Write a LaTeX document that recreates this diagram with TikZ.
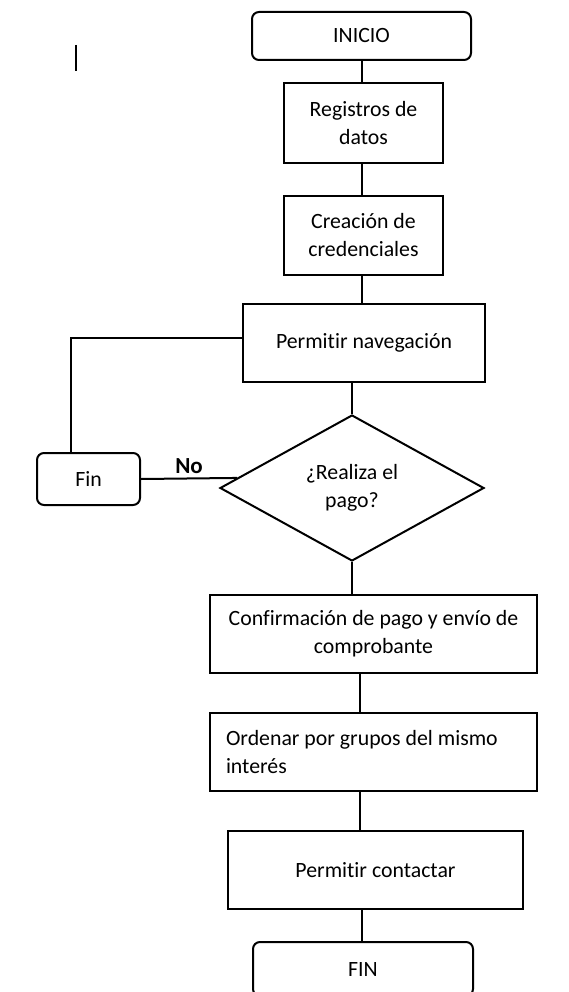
\documentclass[tikz,border=0pt]{standalone}
\usepackage{fontspec}
\setmainfont{Carlito}[Ligatures=NoCommon]
\usetikzlibrary{shapes.geometric}

\begin{document}
\begin{tikzpicture}[x=1pt,y=-1pt,line width=2pt,
  every node/.style={font=\fontsize{21.8}{28}\selectfont},
  terminal/.style={draw,rounded corners=7pt,inner sep=0pt},
  process/.style={draw,align=center,inner sep=0pt,minimum height=78pt},
  decision/.style={draw,shape=diamond,align=center,inner sep=0pt,minimum width=264pt,minimum height=146pt}]

\useasboundingbox (0,0) rectangle (568,992);

\draw[line width=1.5pt] (76,45) -- (76,71);

\node[terminal,minimum width=219pt,minimum height=48pt] (inicio) at (361.5,36) {INICIO};
\node[process,minimum width=159pt,minimum height=80pt] (registro) at (363.5,123) {Registros de\\datos};
\node[process,minimum width=159pt,minimum height=79pt] (credencial) at (363.5,235.5) {Creación de\\credenciales};
\node[process,minimum width=242pt] (navegar) at (364,343) {Permitir navegación};
\node[decision] (pago) at (352,488) {¿Realiza el\\pago?};
\node[terminal,minimum width=103pt,minimum height=52pt] (fin) at (88.5,479) {Fin};
\node[process,minimum width=327pt] (confirmar) at (373.5,634) {Confirmación de pago y envío de\\comprobante};
\node[process,minimum width=327pt,text width=295pt,align=flush left] (ordenar) at (373.5,752) {Ordenar por grupos del mismo\\interés};
\node[process,minimum width=295pt] (contactar) at (375.5,870) {Permitir contactar};
\node[terminal,minimum width=220pt,minimum height=54pt] (finfinal) at (363,969) {FIN};

\draw (inicio.south) -- (inicio.south |- registro.north);
\draw (inicio.south |- registro.south) -- (inicio.south |- credencial.north);
\draw (inicio.south |- credencial.south) -- (inicio.south |- navegar.north);
\draw (navegar.south -| pago.north) -- (pago.north);
\draw ([yshift=5pt]navegar.west) -| ([xshift=-18pt]fin.north);
\draw (fin.east) -- node[above,font=\fontsize{23}{28}\selectfont\bfseries] {No} (pago.175.6);
\draw (pago.south) -- (pago.south |- confirmar.north);
\draw ([xshift=-13.5pt]confirmar.south) -- ([xshift=-13.5pt]ordenar.north);
\draw ([xshift=-13.5pt]ordenar.south) -- ([xshift=-13.5pt]ordenar.south |- contactar.north);
\draw ([xshift=-13.5pt]contactar.south) -- ([xshift=-13.5pt]contactar.south |- finfinal.north);

\end{tikzpicture}
\end{document}
